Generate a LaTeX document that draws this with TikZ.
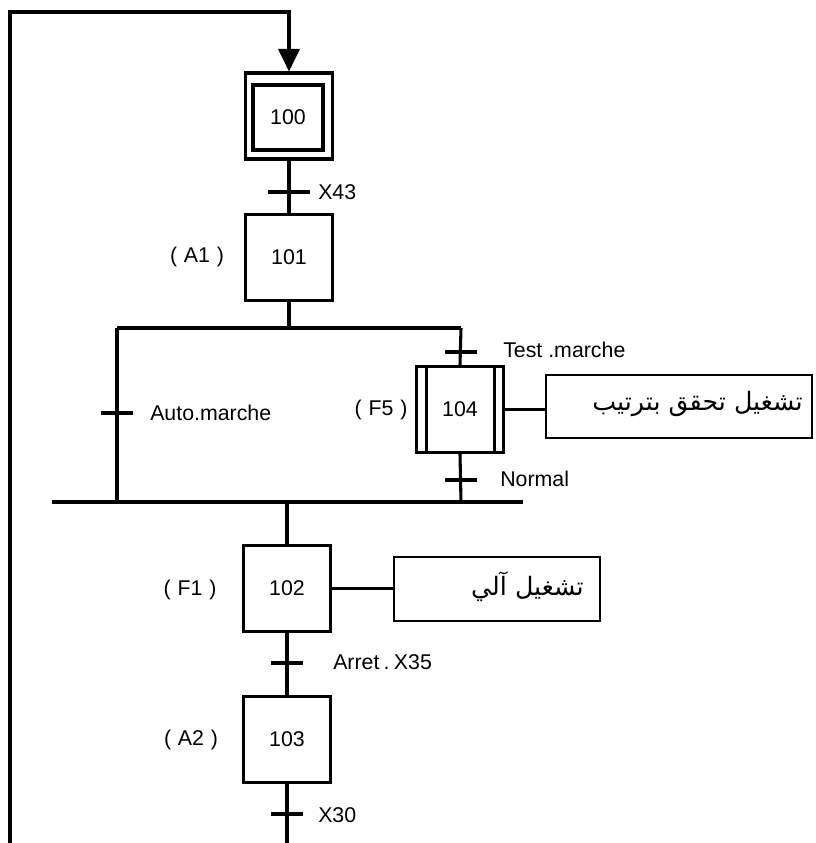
\documentclass[tikz,border=0pt]{standalone}
\usepackage{fontspec}
\setmainfont{Liberation Sans}
\newfontfamily\arabicfont[Script=Arabic]{DejaVu Sans}
\TeXXeTstate=1
\usetikzlibrary{calc,arrows.meta}
\begin{document}
\begin{tikzpicture}[x=0.75pt,y=-0.75pt,
  thick line/.style={line width=2.3pt},
  stepbox/.style={draw,line width=2.3pt,minimum width=65pt,minimum height=64.5pt,inner sep=0pt,font=\fontsize{16}{19}\selectfont},
  innerbox/.style={draw,line width=2.6pt,minimum width=52.5pt,minimum height=48.75pt,inner sep=0pt,font=\fontsize{16}{19}\selectfont},
  actbox/.style={draw,line width=1.5pt,inner sep=0pt},
  acttext/.style={inner sep=0pt,font=\arabicfont\fontsize{19}{22}\selectfont},
  trans/.style={fill=black,minimum width=24.5pt,minimum height=2.8pt,inner sep=0pt,outer sep=0pt},
  lbl/.style={inner sep=0pt,font=\fontsize{16}{19}\selectfont},
]
\useasboundingbox (0,0) rectangle (815,843);
% steps
\node[stepbox] (s100o) at (289,116) {};
\node[innerbox] (s100) at (288,117.5) {100};
\node[stepbox] (s101) at (289,257.5) {101};
\node[stepbox] (s104) at (460,409.5) {104};
\node[stepbox] (s102) at (287,588.5) {102};
\node[stepbox] (s103) at (287,739.5) {103};
\draw[thick line] ($(s104.north west)+(11,0)$) -- ($(s104.south west)+(11,0)$);
\draw[thick line] ($(s104.north east)+(-10,0)$) -- ($(s104.south east)+(-10,0)$);
% action boxes
\node[actbox,minimum width=199.5pt,minimum height=47.25pt] (act1) at (679,406.5) {};
\node[acttext,anchor=east] (act1t) at (803,404) {\beginR تشغيل تحقق بترتيب\endR};
\node[actbox,minimum width=154.5pt,minimum height=48pt] (act2) at (497,589) {};
\node[acttext,anchor=east] (act2t) at (584,587) {\beginR تشغيل آلي\endR};
% coordinates
\coordinate (lb) at (10,843);
\coordinate (lt) at (10,12);
\coordinate (tt) at (289,12);
\coordinate (dm) at (289,328);
\coordinate (d1) at (117,328);
\coordinate (d2) at (461,328);
\coordinate (c1) at (117,502);
\coordinate (c2) at (461,502);
\coordinate (cv1) at (52,502);
\coordinate (cv2) at (523,502);
\coordinate (cvm) at (287,502);
\coordinate (bot) at (287,843);
% transitions
\node[trans,minimum width=31.5pt] (t43) at (289,192) {};
\node[trans] (ttest) at (461,352) {};
\node[trans] (tauto) at (117,413) {};
\node[trans] (tnorm) at (461,480) {};
\node[trans] (tarret) at (287,663) {};
\node[trans] (tx30) at (287,814) {};
% connectors
\draw[thick line,-{Triangle[length=17pt,width=16pt]}] (lb) -- (lt) -- (tt) -- (s100o.north);
\draw[thick line] (s100o.south) -- (s101.north);
\draw[thick line] (s101.south) -- (dm);
\draw[thick line] (d1) -- (d2);
\draw[thick line] (d2) -- (s104.north);
\draw[thick line] (s104.south) -- (c2);
\draw[thick line] (d1) -- (c1);
\draw[thick line] (cv1) -- (cv2);
\draw[thick line] (cvm) -- (s102.north);
\draw[thick line] (s102.south) -- (s103.north);
\draw[thick line] (s103.south) -- (bot);
\draw[thick line] (s104.east) -- (s104.east -| act1.west);
\draw[thick line] (s102.east) -- (s102.east -| act2.west);
% labels
\node[lbl,anchor=west] (lx43) at (318,192) {X43};
\node[lbl] (la1) at (197,257) {(\hspace{0.32em}A1\hspace{0.32em})};
\node[lbl,anchor=west] (ltest) at (503,350) {Test .marche};
\node[lbl,anchor=west] (lauto) at (150,413) {Auto.marche};
\node[lbl] (lf5) at (381,410) {(\hspace{0.32em}F5\hspace{0.32em})};
\node[lbl,anchor=west] (lnorm) at (500,479) {Normal};
\node[lbl] (lf1) at (190,590) {(\hspace{0.32em}F1\hspace{0.32em})};
\node[lbl,anchor=west] (larret) at (333,662) {Arret\hspace{0.2em}.\hspace{0.2em}X35};
\node[lbl] (la2) at (191,740) {(\hspace{0.32em}A2\hspace{0.32em})};
\node[lbl,anchor=west] (lx30) at (318,815) {X30};
\end{tikzpicture}
\end{document}
